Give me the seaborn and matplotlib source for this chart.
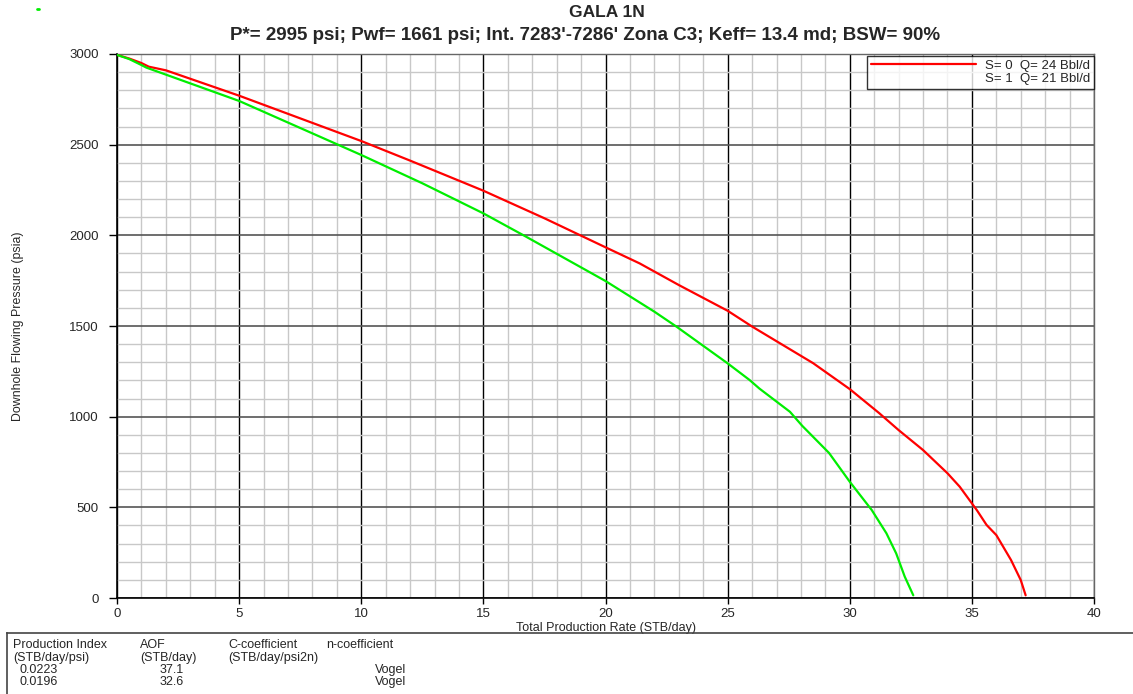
import matplotlib
matplotlib.use("Agg")
import matplotlib.pyplot as plt
from matplotlib.ticker import MultipleLocator
from matplotlib.lines import Line2D
import numpy as np
import pandas as pd
import seaborn as sns

# IPR curves (Vogel) for two skin cases
q_s0 = [0.0, 0.5, 1.0, 1.3, 2.0, 5.0, 7.5, 10.0, 12.0, 15.0, 17.5, 20.0, 21.4, 23.0,
        25.0, 26.0, 28.5, 30.0, 31.2, 32.0, 33.0, 34.0, 34.5, 35.2, 35.6, 36.0,
        36.6, 37.0, 37.2]
p_s0 = [2995, 2975, 2950, 2930, 2910, 2770, 2645, 2520, 2412, 2246, 2094, 1934,
        1845, 1726, 1584, 1497, 1295, 1152, 1020, 926, 816, 688, 614, 485, 403,
        347, 210, 99, 15]

q_s1 = [0.0, 0.5, 1.0, 1.2, 5.0, 10.0, 12.5, 15.0, 16.7, 20.0, 22.0, 22.9, 25.0,
        25.9, 26.3, 27.55, 28.05, 29.15, 30.0, 30.9, 31.5, 31.9, 32.25, 32.6]
p_s1 = [2995, 2972, 2939, 2925, 2741, 2443, 2287, 2121, 1996, 1748, 1579, 1497,
        1294, 1202, 1155, 1027, 950, 800, 641, 485, 357, 246, 118, 15]

legend_labels = ["S= 0  Q= 24 Bbl/d", "S= 1  Q= 21 Bbl/d"]

table_header1 = ["Production Index", "AOF", "C-coefficient", "n-coefficient"]
table_header2 = ["(STB/day/psi)", "(STB/day)", "(STB/day/psi2n)"]
prod_index = ["0.0223", "0.0196"]
aof = ["37.1", "32.6"]
method = ["Vogel", "Vogel"]

df = pd.concat([
    pd.DataFrame({"q": q_s0, "p": p_s0, "case": "S0"}),
    pd.DataFrame({"q": q_s1, "p": p_s1, "case": "S1"}),
])

sns.set_style("white")
plt.rcParams["font.family"] = ["Liberation Sans", "DejaVu Sans"]

fig = plt.figure(figsize=(11.33, 6.94), dpi=100)
ax = fig.add_axes([0.1033, 0.1383, 0.8623, 0.7839])

sns.lineplot(data=df, x="q", y="p", hue="case", palette={"S0": "#ff0000", "S1": "#00ee00"},
             sort=False, estimator=None, linewidth=1.6, legend=False, ax=ax, zorder=3)

ax.set_xlim(0, 40)
ax.set_ylim(0, 3000)
ax.xaxis.set_major_locator(MultipleLocator(5))
ax.xaxis.set_minor_locator(MultipleLocator(1))
ax.yaxis.set_major_locator(MultipleLocator(500))
ax.yaxis.set_minor_locator(MultipleLocator(100))
ax.grid(which="minor", color="#c8c8c8", linewidth=1.0, zorder=0)
ax.grid(which="major", axis="x", color="#000000", linewidth=1.0, zorder=1)
ax.grid(which="major", axis="y", color="#555555", linewidth=1.2, zorder=1)
ax.set_axisbelow(True)

for side in ["left", "bottom"]:
    ax.spines[side].set_color("#000000")
    ax.spines[side].set_linewidth(1.2)
for side in ["top", "right"]:
    ax.spines[side].set_color("#666666")
    ax.spines[side].set_linewidth(1.0)

ax.tick_params(axis="y", which="major", length=6, width=1, color="#000000", pad=7, labelsize=9.5)
ax.tick_params(axis="x", which="major", length=4, width=1, color="#000000", pad=3, labelsize=9.5)
ax.tick_params(which="minor", length=0)
ax.tick_params(left=True, bottom=True)

ax.set_xlabel("Total Production Rate (STB/day)", fontsize=9, labelpad=1.5)
ax.set_ylabel("Downhole Flowing Pressure (psia)", fontsize=8.9, labelpad=33)

fig.text(0.536, 0.982, "GALA 1N", ha="center", va="center", fontsize=12.5,
         fontweight="bold")
fig.text(0.516, 0.949, "P*= 2995 psi; Pwf= 1661 psi; Int. 7283'-7286' Zona C3; Keff= 13.4 md; BSW= 90%",
         ha="center", va="center", fontsize=13.5, fontweight="bold")

# small green marker near the top-left corner
fig.add_artist(Line2D([37 / 1133, 38.5 / 1133], [1 - 9 / 694, 1 - 9 / 694],
                      color="#00ee00", linewidth=2))

handles = [Line2D([], [], color="#ff0000", linewidth=1.6),
           Line2D([], [], color="#00ee00", linewidth=1.6, alpha=0)]
leg = ax.legend(handles, legend_labels, loc="upper right", bbox_to_anchor=(1.0, 0.997),
                borderaxespad=0, fontsize=9.5, handlelength=8.0, handletextpad=0.65,
                labelspacing=0.1, borderpad=0.3, frameon=True, fancybox=False,
                shadow=False)
leg.get_frame().set_edgecolor("#000000")
leg.get_frame().set_linewidth(1.0)
leg.get_frame().set_facecolor("white")
leg.set_zorder(5)

# summary table box at the bottom of the figure
box_ax = fig.add_axes([7 / 1133, -0.05, 1.0, (694 - 633) / 694 + 0.05])
box_ax.set_xticks([])
box_ax.set_yticks([])
for s in box_ax.spines.values():
    s.set_color("#444444")
    s.set_linewidth(1.2)
box_ax.patch.set_alpha(0)

def fy(py):
    return 1 - py / 694

def fx(px):
    return px / 1133

tf = dict(fontsize=9, va="center")
col_x = [13, 140, 228, 326]
for x, t in zip(col_x, table_header1):
    fig.text(fx(x), fy(645), t, ha="left", **tf)
for x, t in zip(col_x, table_header2):
    fig.text(fx(x), fy(657.5), t, ha="left", **tf)
for i, row_y in enumerate([670, 682]):
    fig.text(fx(20), fy(row_y), prod_index[i], ha="left", **tf)
    fig.text(fx(184), fy(row_y), aof[i], ha="right", **tf)
    fig.text(fx(375), fy(row_y), method[i], ha="left", **tf)

fig.savefig("out.png", dpi=100)
